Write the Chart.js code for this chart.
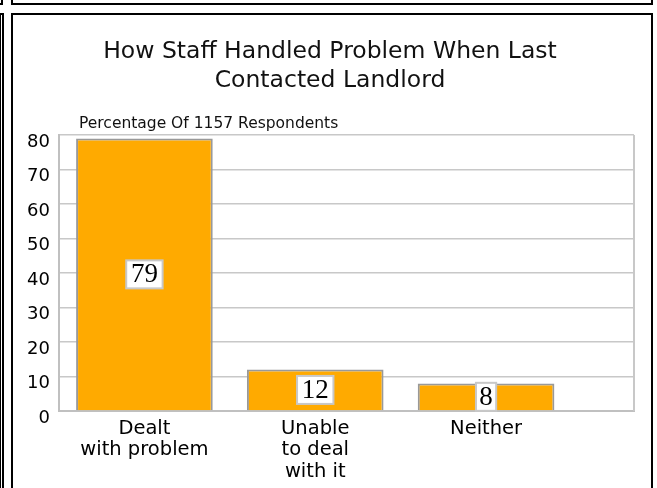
<!DOCTYPE html>
<html><head><meta charset="utf-8">
<script src="https://cdn.jsdelivr.net/npm/chart.js@4/dist/chart.umd.min.js"></script>
<style>
html,body{margin:0;padding:0;background:#fff;overflow:hidden;}
body{width:657px;height:488px;position:relative;}
.f{position:absolute;border:2px solid #000;box-sizing:border-box;}
#wrap{position:absolute;left:0;top:0;width:657px;height:488px;}
</style></head><body>
<div class="f" style="left:-20px;top:-20px;width:23px;height:25px"></div>
<div class="f" style="left:11px;top:-20px;width:642px;height:25px"></div>
<div class="f" style="left:-20px;top:13px;width:24px;height:520px"></div>
<div style="position:absolute;left:0;top:13px;width:1px;height:480px;background:#000"></div>
<div class="f" style="left:11px;top:13px;width:642px;height:520px"></div>
<div id="wrap"><canvas id="c"></canvas></div>
<script>
const categories = [['Dealt','with problem'],['Unable','to deal','with it'],['Neither']];
const positions = [0, 1, 2];
const values = [79, 12, 8];
const yMin = 0, yMax = 80, yStep = 10;
const titleLines = ['How Staff Handled Problem When Last', 'Contacted Landlord'];
const subtitleText = 'Percentage Of 1157 Respondents';

const FONT = 'DejaVu Sans';

const subtitlePlugin = {
  id: 'subtitleText',
  afterDraw(chart) {
    const ctx = chart.ctx;
    ctx.save();
    ctx.font = '15.5px "' + FONT + '"';
    ctx.fillStyle = '#111';
    ctx.textAlign = 'left';
    ctx.textBaseline = 'alphabetic';
    ctx.fillText(subtitleText, chart.chartArea.left + 20, chart.chartArea.top - 7);
    ctx.restore();
  }
};

const rightBorderPlugin = {
  id: 'rightBorder',
  beforeDatasetsDraw(chart) {
    const ctx = chart.ctx, a = chart.chartArea;
    ctx.save();
    ctx.strokeStyle = '#c8c8c8';
    ctx.lineWidth = 2;
    ctx.beginPath();
    ctx.moveTo(a.right, a.top);
    ctx.lineTo(a.right, a.bottom);
    ctx.stroke();
    ctx.restore();
  }
};

const valueLabelPlugin = {
  id: 'valueLabels',
  afterDatasetsDraw(chart) {
    const ctx = chart.ctx;
    const meta = chart.getDatasetMeta(0);
    ctx.save();
    ctx.font = '27px "Liberation Serif"';
    meta.data.forEach((bar, i) => {
      const txt = String(values[i]);
      const tw = ctx.measureText(txt).width;
      const w = tw * 1.2 + 4;
      const h = 28;
      const cx = bar.x;
      const cy = (bar.y + bar.base) / 2;
      ctx.fillStyle = '#fff';
      ctx.fillRect(cx - w / 2, cy - h / 2, w, h);
      ctx.strokeStyle = '#c8c8c8';
      ctx.lineWidth = 2;
      ctx.strokeRect(cx - w / 2, cy - h / 2, w, h);
      ctx.fillStyle = '#000';
      ctx.textAlign = 'center';
      ctx.textBaseline = 'middle';
      ctx.fillText(txt, cx, cy + 1);
    });
    ctx.restore();
  }
};

new Chart(document.getElementById('c'), {
  type: 'bar',
  data: {
    datasets: [{
      data: positions.map((p, i) => ({ x: p, y: values[i] })),
      backgroundColor: '#ffaa00',
      borderColor: '#999999',
      borderWidth: 2,
      barPercentage: 0.8,
      categoryPercentage: 1.0
    }]
  },
  options: {
    responsive: true,
    maintainAspectRatio: false,
    devicePixelRatio: 1,
    animation: false,
    layout: { padding: { left: 26, right: 23, top: 0, bottom: 0 } },
    plugins: {
      legend: { display: false },
      tooltip: { enabled: false },
      title: {
        display: true,
        text: titleLines,
        color: '#111',
        font: { family: FONT, size: 23.5, weight: 'normal', lineHeight: 1.22 },
        padding: { top: 38, bottom: 39.7 }
      }
    },
    scales: {
      x: {
        type: 'linear',
        offset: false,
        min: -0.5,
        max: 2.866,
        afterBuildTicks: (scale) => { scale.ticks = positions.map(v => ({ value: v })); },
        afterFit: (scale) => { scale.height = 77; },
        grid: { display: false, drawTicks: false, offset: false },
        border: { display: true, color: '#c0c0c0', width: 2 },
        ticks: {
          autoSkip: false,
          maxRotation: 0,
          minRotation: 0,
          padding: 7,
          color: '#000',
          font: { family: FONT, size: 19.5, lineHeight: 1.1 },
          callback: (v) => categories[v] !== undefined ? categories[v] : ''
        }
      },
      y: {
        min: yMin,
        max: yMax,
        afterFit: (scale) => { scale.width = 33; },
        grid: { color: '#c8c8c8', lineWidth: 1.5, drawTicks: false },
        border: { display: true, color: '#c0c0c0', width: 2 },
        ticks: {
          stepSize: yStep,
          padding: 9,
          labelOffset: 7,
          color: '#000',
          font: { family: FONT, size: 18 }
        }
      }
    }
  },
  plugins: [subtitlePlugin, rightBorderPlugin, valueLabelPlugin]
});
</script>
</body></html>
